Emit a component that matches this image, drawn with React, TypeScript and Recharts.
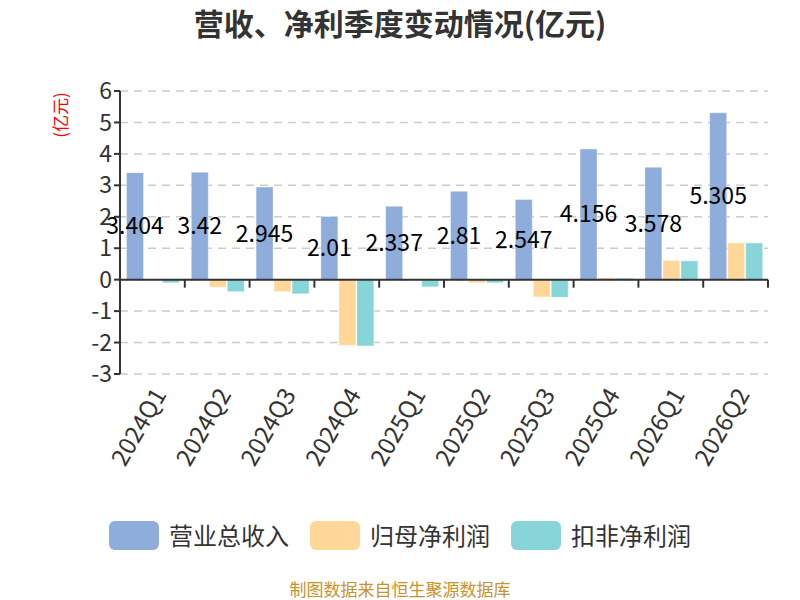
import React from 'react';
import {
  BarChart, Bar, XAxis, YAxis, CartesianGrid, ReferenceLine, LabelList
} from 'recharts';

const quarters = ['2024Q1', '2024Q2', '2024Q3', '2024Q4', '2025Q1', '2025Q2', '2025Q3', '2025Q4', '2026Q1', '2026Q2'];
const revenue = [3.404, 3.42, 2.945, 2.01, 2.337, 2.81, 2.547, 4.156, 3.578, 5.305];
const netProfit = [-0.01, -0.24, -0.38, -2.09, 0.01, -0.1, -0.55, 0.06, 0.61, 1.17];
const deductedProfit = [-0.1, -0.38, -0.45, -2.11, -0.23, -0.1, -0.56, 0.05, 0.6, 1.17];
const yTicks = [-3, -2, -1, 0, 1, 2, 3, 4, 5, 6];

const series = [
  { key: 'revenue', name: '营业总收入', color: '#8eaddb' },
  { key: 'netProfit', name: '归母净利润', color: '#ffd899' },
  { key: 'deductedProfit', name: '扣非净利润', color: '#88d5d9' },
];

const data = quarters.map((q, i) => ({
  name: q,
  revenue: revenue[i],
  netProfit: netProfit[i],
  deductedProfit: deductedProfit[i],
}));

const font = '"Noto Sans CJK SC", "Noto Sans", sans-serif';

// zero line with tick marks at the category boundaries
const ZeroAxis = (props: any) => {
  const { x1, x2, y1 } = props;
  const step = (x2 - x1) / quarters.length;
  const marks = [];
  for (let i = 0; i <= quarters.length; i++) {
    const x = x1 + step * i;
    marks.push(<line key={i} x1={x} x2={x} y1={y1} y2={y1 + 8} stroke="#333" strokeWidth={2} />);
  }
  return (
    <g>
      <line x1={x1} x2={x2} y1={y1} y2={y1} stroke="#333" strokeWidth={2} />
      {marks}
    </g>
  );
};

export default function App() {
  return (
    <div style={{ position: 'absolute', left: 0, top: 0, width: 800, height: 600, background: '#fff', fontFamily: font, overflow: 'hidden' }}>
      <div style={{ position: 'absolute', top: 2, width: 800, textAlign: 'center', fontSize: 30, lineHeight: '40px', fontWeight: 'bold', color: '#333' }}>
        营收、净利季度变动情况(亿元)
      </div>
      <div style={{ position: 'absolute', left: 30, top: 105, width: 60, lineHeight: '20px', textAlign: 'center', transform: 'rotate(-90deg)', fontSize: 17, color: '#ff0000' }}>
        (亿元)
      </div>
      <BarChart
        width={800}
        height={600}
        data={data}
        margin={{ top: 91, right: 32, left: 0, bottom: 126 }}
        barCategoryGap="10%"
        barGap={1}
      >
        <CartesianGrid horizontal vertical={false} stroke="#ccc" strokeDasharray="8 6" strokeWidth={1.5} />
        <XAxis
          dataKey="name"
          height={100}
          axisLine={false}
          tickLine={false}
          interval={0}
          angle={-60}
          textAnchor="end"
          tick={{ fontSize: 24, fill: '#333', fontFamily: font }}
          tickMargin={6}
        />
        <YAxis
          width={120}
          domain={[-3, 6]}
          ticks={yTicks}
          interval={0}
          axisLine={{ stroke: '#333', strokeWidth: 2 }}
          tickLine={{ stroke: '#333', strokeWidth: 2 }}
          tickSize={6}
          tick={{ fontSize: 23, fill: '#333', fontFamily: font }}
        />
        <ReferenceLine y={0} shape={ZeroAxis} />
        {series.map((s) => (
          <Bar key={s.key} dataKey={s.key} name={s.name} fill={s.color} stroke="#fff" strokeOpacity={0.4} isAnimationActive={false}>
            {s.key === 'revenue' && (
              <LabelList dataKey="revenue" position="center" style={{ fontSize: 23, fill: '#000', fontFamily: font }} />
            )}
          </Bar>
        ))}
      </BarChart>
      <div style={{ position: 'absolute', top: 520, width: 800, display: 'flex', justifyContent: 'center', gap: 21 }}>
        {series.map((s) => (
          <div key={s.key} style={{ display: 'flex', alignItems: 'center', gap: 10 }}>
            <div style={{ width: 50, height: 29, borderRadius: 6, background: s.color }} />
            <span style={{ fontSize: 24, lineHeight: '30px', color: '#333' }}>{s.name}</span>
          </div>
        ))}
      </div>
      <div style={{ position: 'absolute', top: 579, width: 800, textAlign: 'center', fontSize: 17, lineHeight: '20px', color: '#c8922a' }}>
        制图数据来自恒生聚源数据库
      </div>
    </div>
  );
}
